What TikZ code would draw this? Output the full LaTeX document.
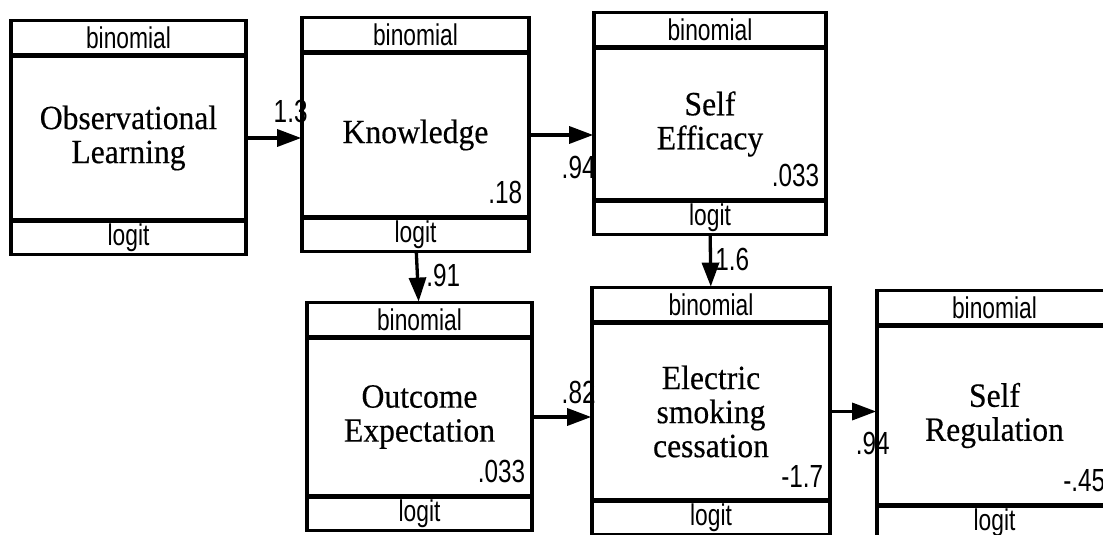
\documentclass[tikz,border=0pt]{standalone}
\usepackage{fontspec}
\newfontfamily\boxserif[FakeStretch=0.93,FakeBold=0.4]{Liberation Serif}
\newfontfamily\narrowsans[FakeStretch=0.76]{Liberation Sans}
\usetikzlibrary{arrows.meta,positioning}

\begin{document}
\begin{tikzpicture}[x=1pt,y=1pt,->,>={Triangle[length=24pt,width=17pt]},line width=3.3pt,
    varbox/.style={rectangle, draw=black, line width=3.3pt, outer sep=0.8pt, align=center,
                   font=\boxserif\fontsize{34}{34}\selectfont},
    headbox/.style={rectangle, draw=black, line width=3.3pt, outer sep=0.8pt, inner sep=0pt,
                    minimum height=34pt, font=\narrowsans\fontsize{30}{30}\selectfont},
    footbox/.style={headbox, minimum height=33pt},
    valtext/.style={inner sep=0pt, font=\narrowsans\fontsize{32}{32}\selectfont},
    coef/.style={inner sep=0pt, font=\narrowsans\fontsize{32}{32}\selectfont}]
  \clip (0,0) rectangle (1103,535);

  % first row
  \node[varbox, minimum width=235pt, minimum height=164pt] (obs) at (128.5,397) {Observational\\Learning};
  \node[headbox, minimum width=235pt, above=0pt of obs] (obshead) {binomial};
  \node[footbox, minimum width=235pt, below=0pt of obs] (obsfoot) {logit};

  \node[varbox, minimum width=227pt, minimum height=164pt] (know) at (415.5,400) {Knowledge};
  \node[headbox, minimum width=227pt, above=0pt of know] (knowhead) {binomial};
  \node[footbox, minimum width=227pt, below=0pt of know] (knowfoot) {logit};
  \node[valtext, above left=12pt and 6pt of know.south east] (knowval) {.18};

  \node[varbox, minimum width=232pt, minimum height=152pt] (seff) at (710,411) {Self\\Efficacy};
  \node[headbox, minimum width=232pt, above=0pt of seff] (seffhead) {binomial};
  \node[footbox, minimum width=232pt, below=0pt of seff] (sefffoot) {logit};
  \node[valtext, above left=12pt and 6pt of seff.south east] (seffval) {.033};

  % second row
  \node[varbox, minimum width=225pt, minimum height=158pt] (outc) at (419.5,118) {Outcome\\Expectation};
  \node[headbox, minimum width=225pt, above=0pt of outc] (outchead) {binomial};
  \node[footbox, minimum width=225pt, below=0pt of outc] (outcfoot) {logit};
  \node[valtext, above left=12pt and 6pt of outc.south east] (outcval) {.033};

  \node[varbox, minimum width=238pt, minimum height=177pt] (ecig) at (711,123.5) {Electric\\smoking\\cessation};
  \node[headbox, minimum width=238pt, above=0pt of ecig] (ecighead) {binomial};
  \node[footbox, minimum width=238pt, below=0pt of ecig] (ecigfoot) {logit};
  \node[valtext, above left=12pt and 6pt of ecig.south east] (ecigval) {-1.7};

  \node[varbox, minimum width=235pt, minimum height=179pt] (sreg) at (994.5,119.5) {Self\\Regulation};
  \node[headbox, minimum width=235pt, above=0pt of sreg] (sreghead) {binomial};
  \node[footbox, minimum width=235pt, below=0pt of sreg] (sregfoot) {logit};
  \node[valtext, above left=12pt and 6pt of sreg.south east] (sregval) {-.45};

  % paths
  \draw (obs.east) -- (obs.east -| know.west)
        node[coef, pos=1, anchor=south east, xshift=8pt, yshift=14pt] {1.3};
  \draw (know.east) -- (know.east -| seff.west)
        node[coef, pos=1, anchor=north east, xshift=4pt, yshift=-20pt] {.94};
  \draw (knowfoot) -- (outchead)
        node[coef, pos=1, anchor=south west, xshift=6pt, yshift=13pt] {.91};
  \draw (sefffoot) -- (ecighead)
        node[coef, pos=1, anchor=south west, xshift=3pt, yshift=14pt] {1.6};
  \draw (outc.east) -- (outc.east -| ecig.west)
        node[coef, pos=1, anchor=south east, xshift=6pt, yshift=12pt] {.82};
  \draw (ecig.east) -- (ecig.east -| sreg.west)
        node[coef, pos=1, anchor=north east, xshift=15pt, yshift=-19pt] {.94};
\end{tikzpicture}
\end{document}
